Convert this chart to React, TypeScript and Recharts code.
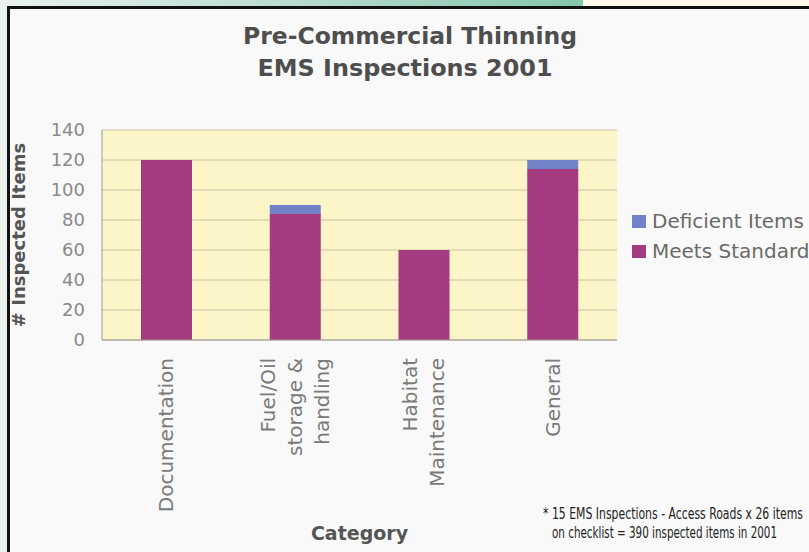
import React from 'react';
import { BarChart, Bar, XAxis, YAxis, CartesianGrid, Legend } from 'recharts';

const categories = [
  'Documentation',
  'Fuel/Oil\nstorage &\nhandling',
  'Habitat\nMaintenance',
  'General',
];
const meetsStandards = [120, 84, 60, 114];
const deficientItems = [0, 6, 0, 6];
const yTicks = [0, 20, 40, 60, 80, 100, 120, 140];

const data = categories.map((category, i) => ({
  category,
  meets: meetsStandards[i],
  deficient: deficientItems[i],
}));

const FONT = '"DejaVu Sans", Arial, sans-serif';
const NARROW = '"Liberation Sans Narrow", "Arial Narrow", "DejaVu Sans Condensed", sans-serif';

const XTick = ({ x, y, payload }: any) => {
  const lines = String(payload.value).split('\n');
  const n = lines.length;
  return (
    <g transform={`translate(${x},${y + 18})`}>
      <text transform="rotate(-90)" textAnchor="end" fill="#7a7a7a" fontSize={20} fontFamily={FONT}>
        {lines.map((line, i) => (
          <tspan key={i} x={0} y={(i - (n - 1) / 2) * 27 + 7}>
            {line}
          </tspan>
        ))}
      </text>
    </g>
  );
};

const YTick = ({ x, y, payload }: any) => (
  <text x={x - 17} y={y} dy="0.35em" textAnchor="end" fill="#8a8a8a" fontSize={18} fontFamily={FONT}>
    {payload.value}
  </text>
);

// deficient on top, like the stack
const LEGEND_ORDER = ['Deficient Items', 'Meets Standards'];

const renderLegend = ({ payload }: any) => {
  const items = [...(payload || [])].sort(
    (a: any, b: any) => LEGEND_ORDER.indexOf(a.value) - LEGEND_ORDER.indexOf(b.value)
  );
  return (
    <div style={{ fontFamily: FONT, fontSize: 20, color: '#6a6a6a', whiteSpace: 'nowrap' }}>
      {items.map((entry: any) => (
        <div key={entry.value} style={{ display: 'flex', alignItems: 'center', height: 29.5 }}>
          <span style={{ width: 14, height: 13, background: entry.color, marginRight: 6, display: 'inline-block' }} />
          <span style={{ lineHeight: '29.5px' }}>{entry.value}</span>
        </div>
      ))}
    </div>
  );
};

export default function App() {
  return (
    <div style={{ position: 'absolute', left: 0, top: 0, width: 809, height: 552, overflow: 'hidden', background: '#f9f9f9' }}>
      {/* frame */}
      <div style={{ position: 'absolute', left: 0, top: 0, width: 583, height: 6, background: 'linear-gradient(to right, #eaf2ee, #85c6ad)' }} />
      <div style={{ position: 'absolute', left: 583, top: 0, width: 226, height: 6, background: '#fffaea' }} />
      <div style={{ position: 'absolute', left: 0, top: 6, width: 7, height: 546, background: '#ecf3ef' }} />
      <div style={{ position: 'absolute', left: 7, top: 6, width: 802, height: 3, background: '#111' }} />
      <div style={{ position: 'absolute', left: 7, top: 6, width: 3, height: 546, background: '#111' }} />

      <svg width={809} height={552} style={{ position: 'absolute', left: 0, top: 0 }}>
        <text x={410} y={44} textAnchor="middle" fontFamily={FONT} fontWeight="bold" fontSize={23} fill="#4e4e4e" textLength={334} lengthAdjust="spacingAndGlyphs">
          Pre-Commercial Thinning
        </text>
        <text x={405} y={76} textAnchor="middle" fontFamily={FONT} fontWeight="bold" fontSize={23} fill="#4e4e4e" textLength={295} lengthAdjust="spacingAndGlyphs">
          EMS Inspections 2001
        </text>
        {/* footnote: condensed, slightly tall lettering */}
        <g transform="translate(543,519) scale(1,1.25)">
          <text x={0} y={0} fontFamily={NARROW} fontSize={12} fill="#222" textLength={260} lengthAdjust="spacingAndGlyphs">
            * 15 EMS Inspections - Access Roads x 26 items
          </text>
        </g>
        <g transform="translate(552,538) scale(1,1.25)">
          <text x={0} y={0} fontFamily={NARROW} fontSize={12} fill="#222" textLength={225} lengthAdjust="spacingAndGlyphs">
            on checklist = 390 inspected items in 2001
          </text>
        </g>
      </svg>

      <div style={{ position: 'absolute', left: 0, top: 0 }}>
        <BarChart
          width={809}
          height={552}
          data={data}
          margin={{ top: 130, right: 192, left: 42, bottom: 182 }}
          barSize={51}
        >
          <CartesianGrid vertical={false} fill="#fcf5c8" stroke="#c9c2a6" />
          <XAxis
            dataKey="category"
            interval={0}
            height={30}
            tick={<XTick />}
            tickLine={false}
            tickSize={0}
            tickMargin={0}
            axisLine={{ stroke: '#9a9a9a' }}
            label={{
              content: ({ viewBox }: any) => (
                <text
                  x={viewBox.x + viewBox.width / 2}
                  y={540}
                  textAnchor="middle"
                  fontFamily={FONT}
                  fontWeight="bold"
                  fontSize={19}
                  fill="#555"
                >
                  Category
                </text>
              ),
            }}
          />
          <YAxis
            width={60}
            domain={[0, 140]}
            ticks={yTicks}
            interval={0}
            tick={<YTick />}
            tickLine={false}
            tickSize={0}
            tickMargin={0}
            axisLine={{ stroke: '#9a9a9a' }}
            label={{
              content: ({ viewBox }: any) => {
                const cx = viewBox.x - 17;
                const cy = viewBox.y + viewBox.height / 2;
                return (
                  <text
                    x={cx}
                    y={cy}
                    transform={`rotate(-90, ${cx}, ${cy})`}
                    textAnchor="middle"
                    fontFamily={FONT}
                    fontWeight="bold"
                    fontSize={18}
                    fill="#555"
                  >
                    # Inspected Items
                  </text>
                );
              },
            }}
          />
          <YAxis yAxisId="frame" orientation="right" width={0} tick={false} tickLine={false} axisLine={{ stroke: '#9a9a9a' }} />
          <Legend
            layout="horizontal"
            verticalAlign="middle"
            align="center"
            content={renderLegend}
            wrapperStyle={{ position: 'absolute', left: 632, top: 207, width: 200 }}
          />
          <Bar dataKey="meets" name="Meets Standards" stackId="a" fill="#a43a80" isAnimationActive={false} />
          <Bar dataKey="deficient" name="Deficient Items" stackId="a" fill="#7282c8" isAnimationActive={false} />
        </BarChart>
      </div>
    </div>
  );
}
